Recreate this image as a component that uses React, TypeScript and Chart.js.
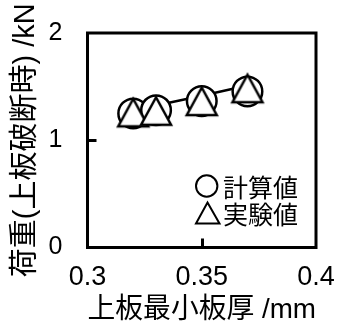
import React, { useEffect, useRef } from 'react';
import { Chart, registerables } from 'chart.js';

Chart.register(...registerables);

// ---- data ----
const thickness = [0.32, 0.33, 0.35, 0.37];
const calculated = [1.25, 1.28, 1.365, 1.455];
const experimental = [1.26, 1.275, 1.365, 1.485];
const trendLine = [1.3, 1.325, 1.415, 1.51];
const xTicks = [0.3, 0.35, 0.4];
const xTickLabels = ['0.3', '0.35', '0.4'];
const yTicks = [0, 1, 2];
const yTickLabels = ['0', '1', '2'];
const seriesLabels = ['計算値', '実験値'];
const xTitle = '上板最小板厚 /mm';
const yTitle = '荷重(上板破断時) /kN';

const LATIN_CJK = '"Liberation Sans", Arial, "Noto Sans CJK JP", sans-serif';
const CJK = '"Noto Sans CJK JP", "Liberation Sans", sans-serif';

function makeTriangle(): HTMLCanvasElement {
  const c = document.createElement('canvas');
  c.width = 36;
  c.height = 36;
  const g = c.getContext('2d')!;
  g.beginPath();
  g.moveTo(18, 4.5);
  g.lineTo(33, 32);
  g.lineTo(3, 32);
  g.closePath();
  g.fillStyle = '#fff';
  g.fill();
  g.lineWidth = 2.5;
  g.lineJoin = 'miter';
  g.strokeStyle = '#000';
  g.stroke();
  return c;
}

const framePlugin = {
  id: 'frameBox',
  beforeDatasetsDraw(chart: any) {
    const { ctx, chartArea } = chart;
    const { left, right, top, bottom } = chartArea;
    const xs = chart.scales.x;
    const ys = chart.scales.y;
    ctx.save();
    ctx.strokeStyle = '#000';
    ctx.lineWidth = 3;
    ctx.strokeRect(left, top, right - left, bottom - top);
    ctx.beginPath();
    yTicks.forEach((v) => {
      if (v === ys.min || v === ys.max) return;
      const p = Math.round(ys.getPixelForValue(v)) + 0.5;
      ctx.moveTo(left, p);
      ctx.lineTo(left + 9, p);
    });
    xTicks.forEach((v) => {
      if (Math.abs(v - xs.min) < 1e-9 || Math.abs(v - xs.max) < 1e-9) return;
      const p = Math.round(xs.getPixelForValue(v)) + 0.5;
      ctx.moveTo(p, bottom);
      ctx.lineTo(p, bottom - 9);
    });
    ctx.stroke();
    ctx.restore();
  },
};

const legendPlugin = {
  id: 'inlineLegend',
  afterDraw(chart: any) {
    const { ctx, chartArea } = chart;
    const cx = chartArea.right - 109.3;
    const row1 = chartArea.bottom - 61.5;
    const row2 = chartArea.bottom - 34.5;
    const tx = chartArea.right - 93;
    ctx.save();
    ctx.strokeStyle = '#000';
    ctx.fillStyle = '#fff';
    ctx.lineWidth = 2;
    // circle (計算値)
    ctx.beginPath();
    ctx.arc(cx, row1, 10.7, 0, Math.PI * 2);
    ctx.fill();
    ctx.stroke();
    // triangle (実験値)
    ctx.beginPath();
    ctx.moveTo(cx + 0.8, row2 - 10.5);
    ctx.lineTo(cx + 12.8, row2 + 10.5);
    ctx.lineTo(cx - 10.7, row2 + 10.5);
    ctx.closePath();
    ctx.fill();
    ctx.stroke();
    ctx.fillStyle = '#000';
    ctx.font = '25px ' + CJK;
    ctx.textBaseline = 'middle';
    ctx.textAlign = 'left';
    ctx.fillText(seriesLabels[0], tx, row1 + 1);
    ctx.fillText(seriesLabels[1], tx, row2 + 1);
    ctx.restore();
  },
};

const zeroPad = (s: any) => {
  s.paddingTop = 0;
  s.paddingBottom = 0;
  s.paddingLeft = 0;
  s.paddingRight = 0;
};

export default function App() {
  const ref = useRef<HTMLCanvasElement | null>(null);

  useEffect(() => {
    if (!ref.current) return;
    const tri = makeTriangle();
    const chart = new Chart(ref.current, {
      type: 'scatter',
      data: {
        datasets: [
          {
            label: seriesLabels[1],
            data: thickness.map((x, i) => ({ x, y: experimental[i] })),
            pointStyle: tri,
            pointRadius: 16,
            showLine: false,
            order: 0,
          } as any,
          {
            label: seriesLabels[0],
            data: thickness.map((x, i) => ({ x, y: calculated[i] })),
            pointStyle: 'circle',
            pointRadius: 14.8,
            borderWidth: 2.5,
            borderColor: '#000',
            backgroundColor: '#fff',
            showLine: false,
            order: 1,
          },
          {
            label: 'line',
            data: thickness.map((x, i) => ({ x, y: trendLine[i] })),
            pointRadius: 0,
            showLine: true,
            borderColor: '#000',
            borderWidth: 2.5,
            order: 2,
          },
        ],
      },
      options: {
        responsive: false,
        animation: false,
        events: [],
        layout: { padding: { top: 33, right: 21, left: 0, bottom: 0 } },
        plugins: {
          legend: { display: false },
          tooltip: { enabled: false },
          title: { display: false },
        },
        scales: {
          x: {
            type: 'linear',
            min: 0.3,
            max: 0.4,
            afterBuildTicks: (s: any) => {
              s.ticks = xTicks.map((v) => ({ value: v }));
            },
            afterFit: (s: any) => {
              s.height = 82.5;
              zeroPad(s);
            },
            grid: { display: false, drawTicks: false },
            border: { display: false },
            ticks: {
              padding: 14.3,
              color: '#000',
              font: { family: LATIN_CJK, size: 27 },
              maxRotation: 0,
              autoSkip: false,
              callback: (_v: any, i: number) => xTickLabels[i],
            },
            title: {
              display: true,
              text: xTitle,
              color: '#000',
              font: { family: LATIN_CJK, size: 28 },
              padding: { top: 0, bottom: 3 },
            },
          },
          y: {
            type: 'linear',
            min: 0,
            max: 2,
            afterBuildTicks: (s: any) => {
              s.ticks = yTicks.map((v) => ({ value: v }));
            },
            afterFit: (s: any) => {
              s.width = 87.5;
              zeroPad(s);
            },
            grid: { display: false, drawTicks: false },
            border: { display: false },
            ticks: {
              padding: 25,
              color: '#000',
              font: { family: LATIN_CJK, size: 25 },
              autoSkip: false,
              callback: (_v: any, i: number) => yTickLabels[i],
            },
            title: {
              display: true,
              text: yTitle,
              color: '#000',
              font: { family: LATIN_CJK, size: 29 },
              padding: { top: 9, bottom: 0 },
            },
          },
        },
      },
      plugins: [framePlugin, legendPlugin],
    });
    return () => chart.destroy();
  }, []);

  return (
    <canvas
      ref={ref}
      width={337}
      height={330}
      style={{ position: 'absolute', left: 0, top: 0, display: 'block', width: 337, height: 330 }}
    />
  );
}
